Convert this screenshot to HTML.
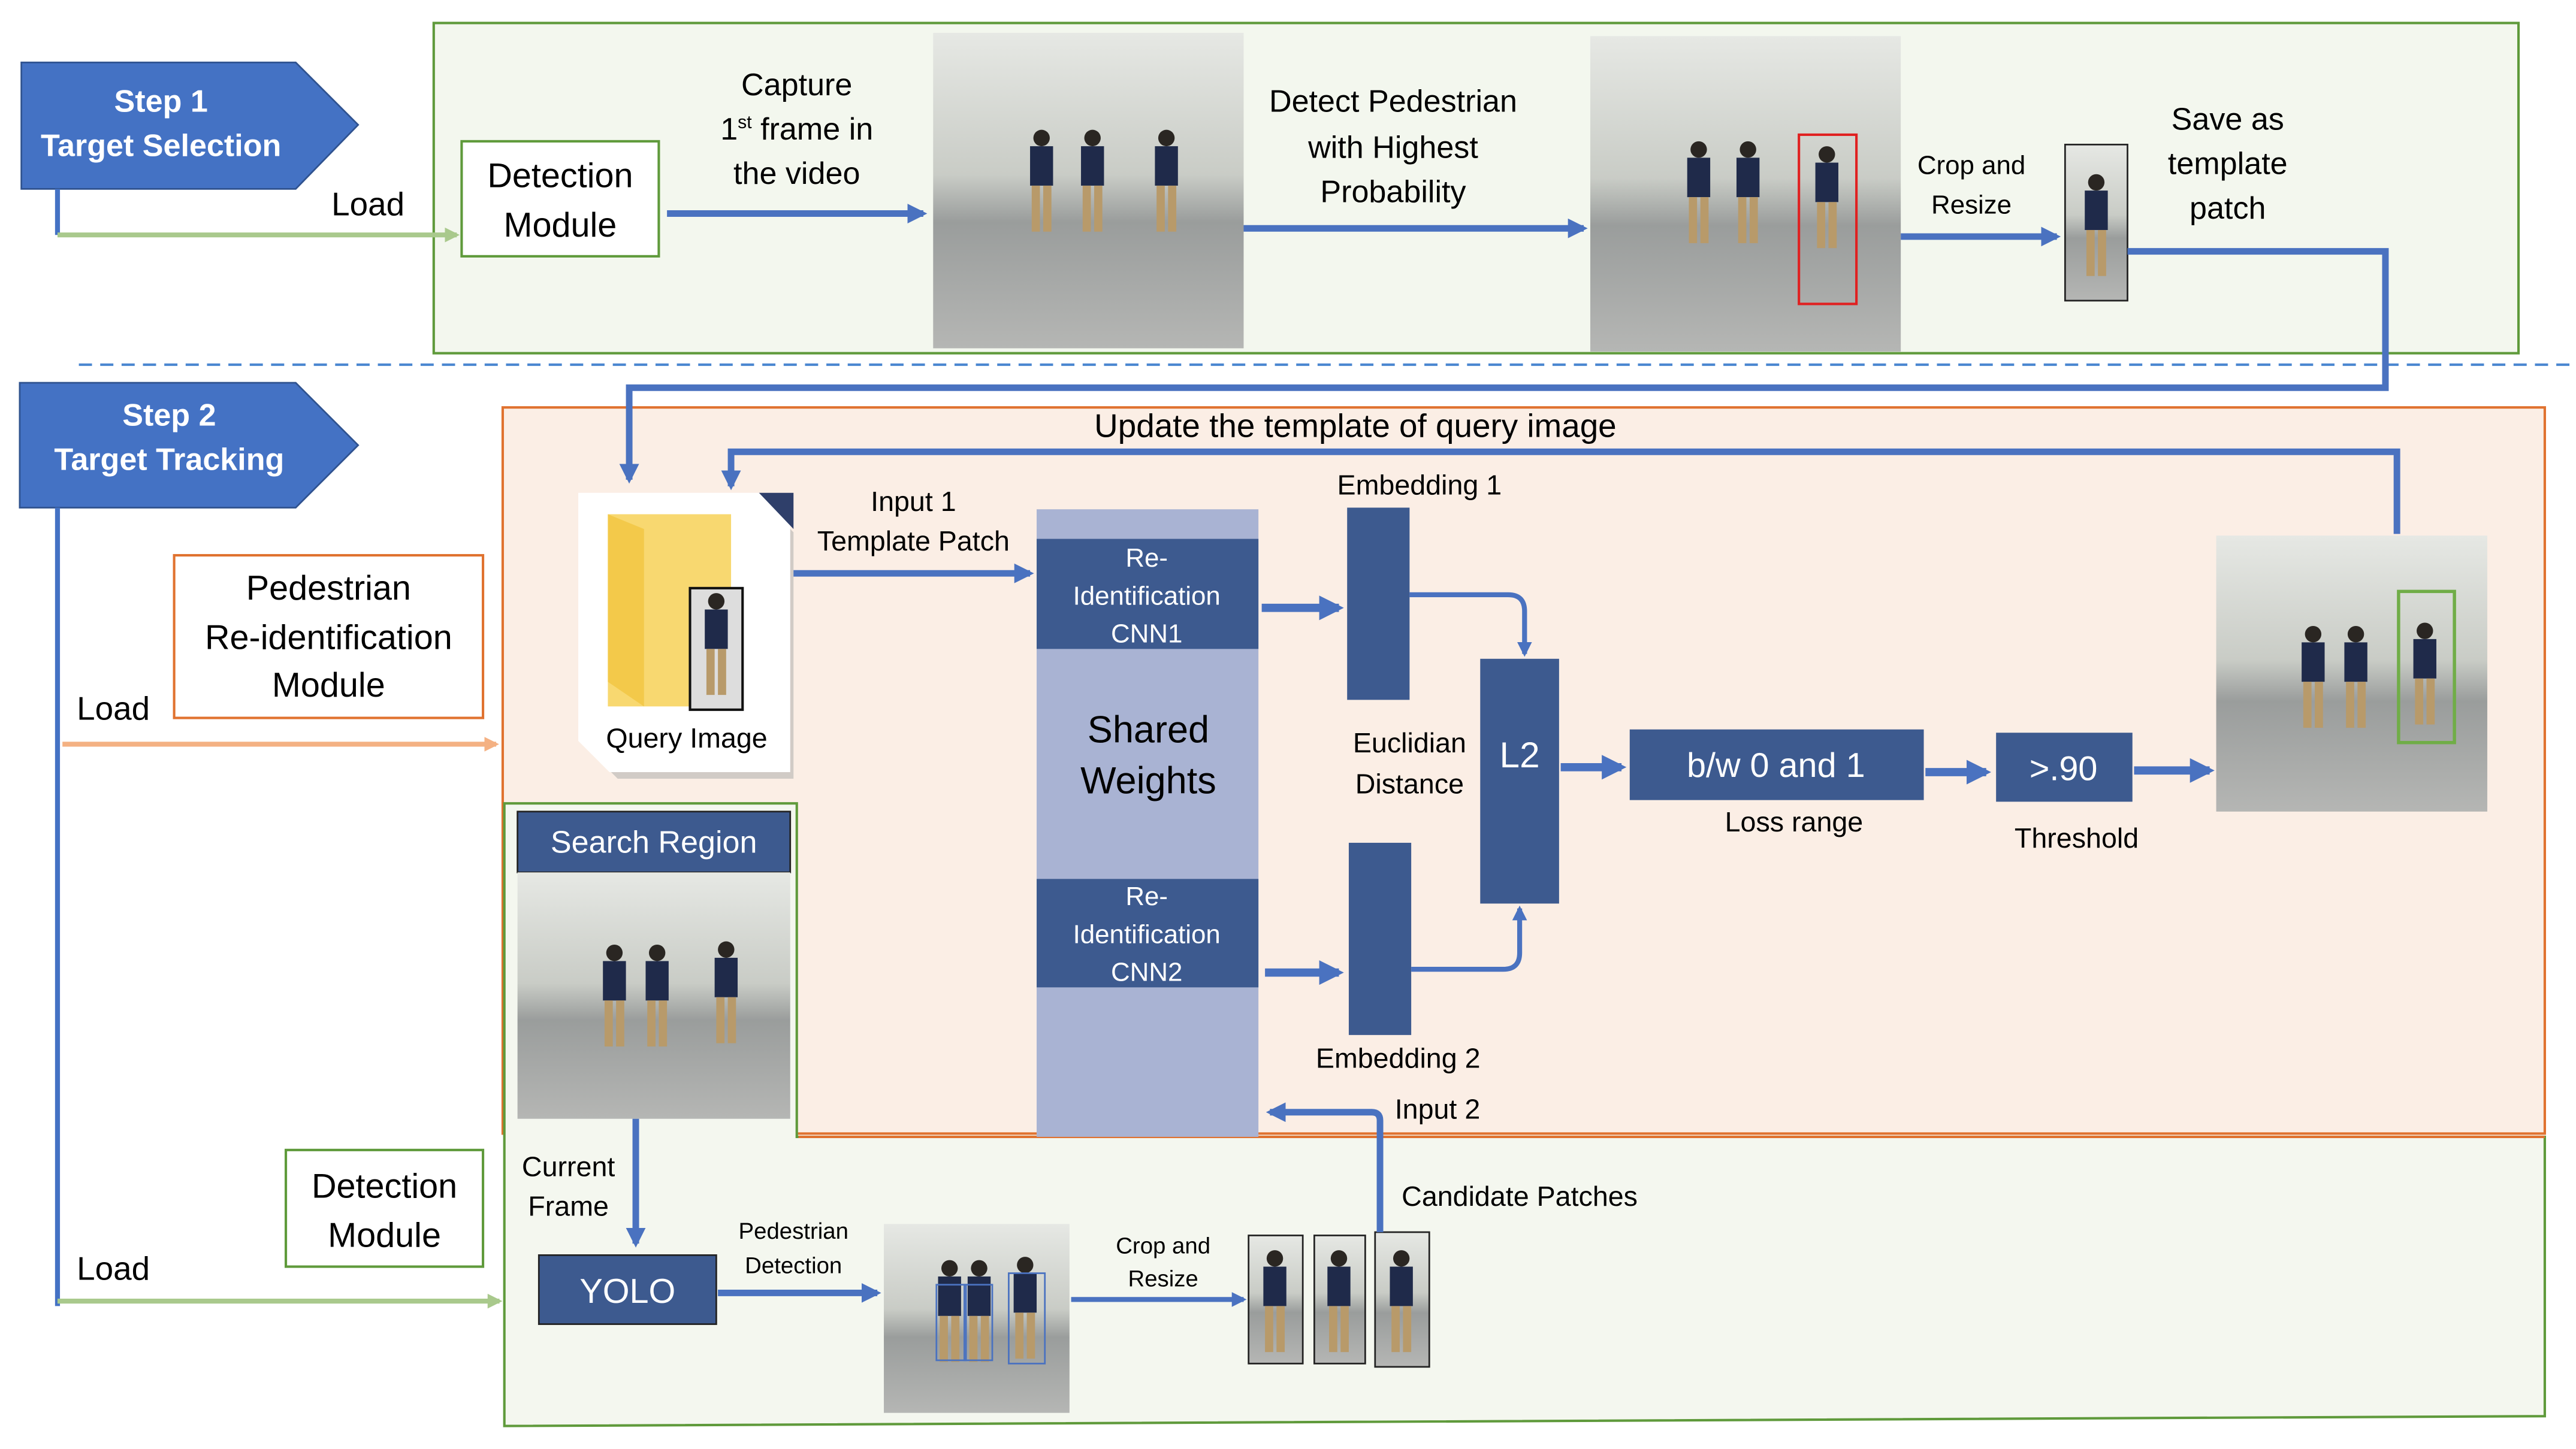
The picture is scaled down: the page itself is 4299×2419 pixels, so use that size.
<!DOCTYPE html>
<html><head><meta charset="utf-8"><style>
html,body{margin:0;padding:0;background:#fff;}
svg{display:block;}
text{font-family:"Liberation Sans",sans-serif;}
</style></head><body>
<svg width="4299" height="2419" viewBox="0 0 1568 882" preserveAspectRatio="none" xmlns="http://www.w3.org/2000/svg">
<defs>
<linearGradient id="ph" x1="0" y1="0" x2="0" y2="1">
<stop offset="0" stop-color="#e6e8e4"/><stop offset="0.45" stop-color="#c9ccc6"/><stop offset="0.6" stop-color="#9a9d9c"/><stop offset="1" stop-color="#b5b6b4"/></linearGradient>
<marker id="ab" viewBox="0 0 10 10" refX="8" refY="5" markerWidth="3" markerHeight="3" orient="auto"><path d="M0,0L10,5L0,10z" fill="#4a72c0"/></marker>
<marker id="ag" viewBox="0 0 10 10" refX="8" refY="5" markerWidth="3" markerHeight="3" orient="auto"><path d="M0,0L10,5L0,10z" fill="#a9c98c"/></marker>
<marker id="ao" viewBox="0 0 10 10" refX="8" refY="5" markerWidth="3" markerHeight="3" orient="auto"><path d="M0,0L10,5L0,10z" fill="#f4b183"/></marker>
<g id="person"><circle cx="0" cy="-34" r="5" fill="#2a2622"/><rect x="-7" y="-29" width="14" height="24" fill="#1f2a4a"/><rect x="-6" y="-5" width="5" height="28" fill="#b89a6a"/><rect x="1" y="-5" width="5" height="28" fill="#b89a6a"/></g>
</defs>

<rect x="264" y="14" width="1269" height="201" fill="#f3f7ee" stroke="#5f9a3b" stroke-width="1.5"/>
<rect x="306" y="248" width="1243" height="442" fill="#fbeee5" stroke="#e0722f" stroke-width="1.5"/>
<path d="M307,489 H485 V692 H1549 V862 L307,868 Z" fill="#f4f7ef" stroke="#5f9a3b" stroke-width="1.5"/>
<path d="M486,692 H1549" stroke="#e0722f" stroke-width="1.5"/>

<path d="M13,38 H180 L218,76 L180,115 H13 Z" fill="#4472c4" stroke="#2f528f" stroke-width="1"/>
<text x="98" y="68" font-size="19" font-weight="bold" fill="#fff" text-anchor="middle">Step 1</text>
<text x="98" y="95" font-size="19" font-weight="bold" fill="#fff" text-anchor="middle">Target Selection</text>
<path d="M12,233 H180 L218,271 L180,309 H12 Z" fill="#4472c4" stroke="#2f528f" stroke-width="1"/>
<text x="103" y="259" font-size="19" font-weight="bold" fill="#fff" text-anchor="middle">Step 2</text>
<text x="103" y="286" font-size="19" font-weight="bold" fill="#fff" text-anchor="middle">Target Tracking</text>

<path d="M35,115 V143" stroke="#4472c4" stroke-width="3" fill="none"/>
<path d="M35,143 H278" stroke="#a9c98c" stroke-width="3" marker-end="url(#ag)"/>
<text x="224" y="131" font-size="20" text-anchor="middle">Load</text>
<path d="M35,309 V795" stroke="#4472c4" stroke-width="3"/>
<path d="M38,453 H302" stroke="#f4b183" stroke-width="3" marker-end="url(#ao)"/>
<text x="69" y="438" font-size="20" text-anchor="middle">Load</text>
<path d="M35,792 H304" stroke="#a9c98c" stroke-width="3" marker-end="url(#ag)"/>
<text x="69" y="779" font-size="20" text-anchor="middle">Load</text>

<path d="M48,222 H1568" stroke="#4a86d0" stroke-width="1.5" stroke-dasharray="8,5"/>

<rect x="281" y="86" width="120" height="70" fill="#fff" stroke="#5f9a3b" stroke-width="1.5"/>
<text x="341" y="114" font-size="21" text-anchor="middle">Detection</text>
<text x="341" y="144" font-size="21" text-anchor="middle">Module</text>

<text x="485" y="58" font-size="19" text-anchor="middle">Capture</text>
<text x="485" y="85" font-size="19" text-anchor="middle">1<tspan font-size="11" dy="-7">st</tspan><tspan dy="7"> frame in</tspan></text>
<text x="485" y="112" font-size="19" text-anchor="middle">the video</text>
<path d="M406,130 H562" stroke="#4a72c0" stroke-width="4" marker-end="url(#ab)"/>

<rect x="568" y="20" width="189" height="192" fill="url(#ph)"/>
<use href="#person" x="634" y="118"/><use href="#person" x="665" y="118"/><use href="#person" x="710" y="118"/>

<text x="848" y="68" font-size="19" text-anchor="middle">Detect Pedestrian</text>
<text x="848" y="96" font-size="19" text-anchor="middle">with Highest</text>
<text x="848" y="123" font-size="19" text-anchor="middle">Probability</text>
<path d="M757,139 H964" stroke="#4a72c0" stroke-width="4" marker-end="url(#ab)"/>

<rect x="968" y="22" width="189" height="192" fill="url(#ph)"/>
<use href="#person" x="1034" y="125"/><use href="#person" x="1064" y="125"/><use href="#person" x="1112" y="128"/>
<rect x="1095" y="82" width="35" height="103" fill="none" stroke="#e02020" stroke-width="1.5"/>

<text x="1200" y="106" font-size="16" text-anchor="middle">Crop and</text>
<text x="1200" y="130" font-size="16" text-anchor="middle">Resize</text>
<path d="M1157,144 H1252" stroke="#4a72c0" stroke-width="4" marker-end="url(#ab)"/>
<rect x="1257" y="88" width="38" height="95" fill="url(#ph)" stroke="#222" stroke-width="1"/>
<use href="#person" x="1276" y="145"/>
<text x="1356" y="79" font-size="19" text-anchor="middle">Save as</text>
<text x="1356" y="106" font-size="19" text-anchor="middle">template</text>
<text x="1356" y="133" font-size="19" text-anchor="middle">patch</text>

<path d="M1295,153 H1452 V236 H383 V292" stroke="#4a72c0" stroke-width="4" fill="none" marker-end="url(#ab)"/>

<text x="825" y="266" font-size="20" text-anchor="middle">Update the template of query  image</text>
<path d="M1459,325 V275 H445 V296" stroke="#4a72c0" stroke-width="4" fill="none" marker-end="url(#ab)"/>

<path d="M355,303 H462 L481,322 V472 H374 L355,453 Z" fill="#a8a8a8" opacity="0.5" transform="translate(2,2)"/>
<path d="M352,300 H462 L481,319 V470 H371 L352,451 Z" fill="#fff"/>
<path d="M462,300 L483,300 L483,322 Z" fill="#2f3f6a"/>
<rect x="370" y="313" width="75" height="117" fill="#f8d870"/>
<path d="M370,313 L392,322 V430 L370,415 Z" fill="#f3c94a"/>
<rect x="420" y="358" width="32" height="74" fill="#ddd" stroke="#111" stroke-width="1.5"/>
<use href="#person" x="436" y="400"/>
<text x="418" y="455" font-size="17" text-anchor="middle">Query Image</text>

<rect x="106" y="338" width="188" height="99" fill="#fff" stroke="#e0722f" stroke-width="1.5"/>
<text x="200" y="365" font-size="21" text-anchor="middle">Pedestrian</text>
<text x="200" y="395" font-size="21" text-anchor="middle">Re-identification</text>
<text x="200" y="424" font-size="21" text-anchor="middle">Module</text>

<text x="556" y="311" font-size="17" text-anchor="middle">Input 1</text>
<text x="556" y="335" font-size="17" text-anchor="middle">Template Patch</text>
<path d="M483,349 H627" stroke="#4a72c0" stroke-width="4" marker-end="url(#ab)"/>

<rect x="631" y="310" width="135" height="382" fill="#a9b3d3"/>
<rect x="631" y="328" width="135" height="67" fill="#3d5a8f"/>
<text x="698" y="345" font-size="16" fill="#fff" text-anchor="middle">Re-</text>
<text x="698" y="368" font-size="16" fill="#fff" text-anchor="middle">Identification</text>
<text x="698" y="391" font-size="16" fill="#fff" text-anchor="middle">CNN1</text>
<rect x="631" y="535" width="135" height="66" fill="#3d5a8f"/>
<text x="698" y="551" font-size="16" fill="#fff" text-anchor="middle">Re-</text>
<text x="698" y="574" font-size="16" fill="#fff" text-anchor="middle">Identification</text>
<text x="698" y="597" font-size="16" fill="#fff" text-anchor="middle">CNN2</text>
<text x="699" y="452" font-size="23" text-anchor="middle">Shared</text>
<text x="699" y="483" font-size="23" text-anchor="middle">Weights</text>

<path d="M768,370 H815" stroke="#4a72c0" stroke-width="5" marker-end="url(#ab)"/>
<path d="M770,592 H815" stroke="#4a72c0" stroke-width="5" marker-end="url(#ab)"/>
<rect x="820" y="309" width="38" height="117" fill="#3d5a8f"/>
<rect x="821" y="513" width="38" height="117" fill="#3d5a8f"/>
<text x="864" y="301" font-size="17" text-anchor="middle">Embedding 1</text>
<text x="851" y="650" font-size="17" text-anchor="middle">Embedding 2</text>
<text x="858" y="458" font-size="17" text-anchor="middle">Euclidian</text>
<text x="858" y="483" font-size="17" text-anchor="middle">Distance</text>
<path d="M858,362 H918 Q928,362 928,372 V398" stroke="#4a72c0" stroke-width="3" fill="none" marker-end="url(#ab)"/>
<path d="M859,590 H915 Q925,590 925,580 V553" stroke="#4a72c0" stroke-width="3" fill="none" marker-end="url(#ab)"/>
<rect x="901" y="401" width="48" height="149" fill="#3d5a8f"/>
<text x="925" y="467" font-size="22" fill="#fff" text-anchor="middle">L2</text>
<path d="M950,467 H987" stroke="#4a72c0" stroke-width="5" marker-end="url(#ab)"/>
<rect x="992" y="444" width="179" height="43" fill="#3d5a8f"/>
<text x="1081" y="473" font-size="21" fill="#fff" text-anchor="middle">b/w 0 and 1</text>
<text x="1092" y="506" font-size="17" text-anchor="middle">Loss range</text>
<path d="M1172,470 H1209" stroke="#4a72c0" stroke-width="5" marker-end="url(#ab)"/>
<rect x="1215" y="446" width="83" height="42" fill="#3d5a8f"/>
<text x="1256" y="475" font-size="21" fill="#fff" text-anchor="middle">&gt;.90</text>
<text x="1264" y="516" font-size="17" text-anchor="middle">Threshold</text>
<path d="M1299,469 H1345" stroke="#4a72c0" stroke-width="5" marker-end="url(#ab)"/>

<rect x="1349" y="326" width="165" height="168" fill="url(#ph)"/>
<use href="#person" x="1408" y="420"/><use href="#person" x="1434" y="420"/><use href="#person" x="1476" y="418"/>
<rect x="1460" y="360" width="34" height="92" fill="none" stroke="#70ad47" stroke-width="2"/>

<rect x="315" y="494" width="166" height="37" fill="#3d5a8f" stroke="#222" stroke-width="1"/>
<text x="398" y="519" font-size="19" fill="#fff" text-anchor="middle">Search Region</text>
<rect x="315" y="531" width="166" height="150" fill="url(#ph)"/>
<use href="#person" x="374" y="614"/><use href="#person" x="400" y="614"/><use href="#person" x="442" y="612"/>
<path d="M387,681 V757" stroke="#4a72c0" stroke-width="4" marker-end="url(#ab)"/>
<text x="346" y="716" font-size="17" text-anchor="middle">Current</text>
<text x="346" y="740" font-size="17" text-anchor="middle">Frame</text>

<rect x="174" y="700" width="120" height="71" fill="#fff" stroke="#5f9a3b" stroke-width="1.5"/>
<text x="234" y="729" font-size="21" text-anchor="middle">Detection</text>
<text x="234" y="759" font-size="21" text-anchor="middle">Module</text>

<rect x="328" y="764" width="108" height="42" fill="#3d5a8f" stroke="#222" stroke-width="1"/>
<text x="382" y="793" font-size="21" fill="#fff" text-anchor="middle">YOLO</text>
<text x="483" y="754" font-size="14" text-anchor="middle">Pedestrian</text>
<text x="483" y="775" font-size="14" text-anchor="middle">Detection</text>
<path d="M437,787 H534" stroke="#4a72c0" stroke-width="4" marker-end="url(#ab)"/>
<rect x="538" y="745" width="113" height="115" fill="url(#ph)"/>
<use href="#person" x="578" y="806"/><use href="#person" x="596" y="806"/><use href="#person" x="624" y="804"/>
<rect x="570" y="782" width="18" height="46" fill="none" stroke="#4a72c0" stroke-width="1"/>
<rect x="587" y="782" width="17" height="46" fill="none" stroke="#4a72c0" stroke-width="1"/>
<rect x="614" y="775" width="22" height="55" fill="none" stroke="#4a72c0" stroke-width="1"/>
<text x="708" y="763" font-size="14" text-anchor="middle">Crop and</text>
<text x="708" y="783" font-size="14" text-anchor="middle">Resize</text>
<path d="M652,791 H757" stroke="#4a72c0" stroke-width="3" marker-end="url(#ab)"/>
<rect x="760" y="752" width="33" height="78" fill="url(#ph)" stroke="#222" stroke-width="1"/>
<use href="#person" x="776" y="800"/>
<rect x="800" y="752" width="31" height="78" fill="url(#ph)" stroke="#222" stroke-width="1"/>
<use href="#person" x="815" y="800"/>
<rect x="837" y="750" width="33" height="82" fill="url(#ph)" stroke="#222" stroke-width="1"/>
<use href="#person" x="853" y="800"/>
<path d="M840,750 V682 Q840,677 835,677 H773" stroke="#4a72c0" stroke-width="4" fill="none" marker-end="url(#ab)"/>
<text x="875" y="681" font-size="17" text-anchor="middle">Input 2</text>
<text x="925" y="734" font-size="17" text-anchor="middle">Candidate Patches</text>
</svg>
</body></html>
